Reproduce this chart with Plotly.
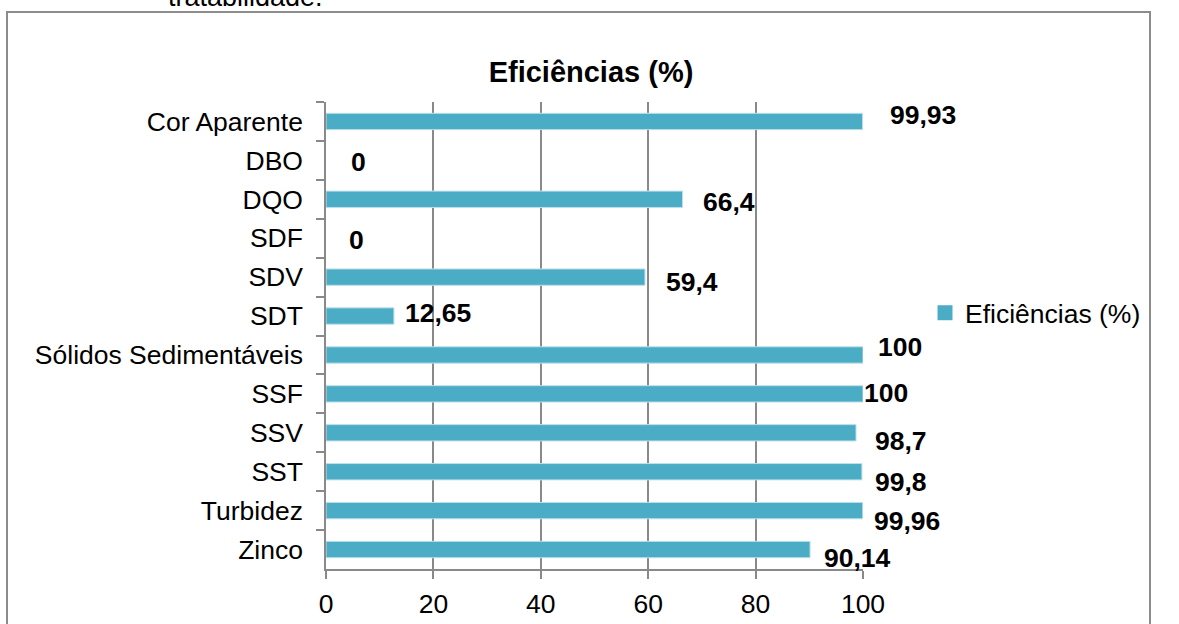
import plotly.graph_objects as go

categories = ["Cor Aparente", "DBO", "DQO", "SDF", "SDV", "SDT",
              "Sólidos Sedimentáveis", "SSF", "SSV", "SST", "Turbidez", "Zinco"]
values = [99.93, 0, 66.4, 0, 59.4, 12.65, 100, 100, 98.7, 99.8, 99.96, 90.14]
value_labels = ["99,93", "0", "66,4", "0", "59,4", "12,65", "100", "100",
                "98,7", "99,8", "99,96", "90,14"]
x_ticks = [0, 20, 40, 60, 80, 100]
series_name = "Eficiências (%)"

# pixel offsets of the data labels from the bar end / category centre
label_dx = [25, 23, 18, 21, 19, 9, 13, -1, 17, 11, 9, 12]
label_dy = [6, -2, -3, -2, -5, 3, 8, 1, -8, -10, -10, -8]

FONT = "Liberation Sans, Arial, sans-serif"
BAR = "#4BACC6"
GRID = "#898989"

fig = go.Figure()
fig.add_trace(go.Bar(
    x=values, y=categories, orientation="h", name=series_name,
    width=0.42,
    marker=dict(color=BAR, line=dict(color="#BFE0EA",
                                     width=[1 if v > 0 else 0 for v in values])),
    showlegend=False,
))
# legend entry with a larger square key
fig.add_trace(go.Scatter(
    x=[None], y=[None], mode="markers", name=series_name,
    marker=dict(symbol="square", size=15, color=BAR), showlegend=True,
))

annotations = []
for cat, v, t, dx, dy in zip(categories, values, value_labels, label_dx, label_dy):
    annotations.append(dict(
        x=v, y=cat, xref="x", yref="y", text=f"<b>{t}</b>", showarrow=False,
        xanchor="left", yanchor="middle", xshift=dx, yshift=dy,
        font=dict(family=FONT, size=26.5, color="#000000"),
    ))

# cut-off caption above the chart
annotations.append(dict(
    x=(166 - 326) / 537, y=(569 + 3) / 467, xref="paper", yref="paper",
    text="tratabilidade.", showarrow=False, xanchor="left", yanchor="middle",
    font=dict(family=FONT, size=27, color="#000000"),
))

fig.update_layout(
    width=1179, height=624,
    margin=dict(l=326, r=316, t=102, b=55, autoexpand=False),
    paper_bgcolor="white", plot_bgcolor="white",
    font=dict(family=FONT, size=26.5, color="#000000"),
    title=dict(text="<b>Eficiências (%)</b>", x=(591 - 326) / 537, xref="paper",
               xanchor="center", y=1 - 72 / 624, yanchor="middle",
               font=dict(family=FONT, size=29, color="#000000")),
    legend=dict(x=(925 - 326) / 537, y=(569 - 313) / 467, xanchor="left",
                yanchor="middle", font=dict(family=FONT, size=26.5),
                bgcolor="rgba(0,0,0,0)"),
    xaxis=dict(range=[0, 100], tickvals=x_ticks, ticktext=[str(t) for t in x_ticks],
               showgrid=True, gridcolor=GRID, gridwidth=1.5,
               showline=True, linecolor=GRID, linewidth=1.5,
               ticks="outside", ticklen=8, tickcolor=GRID, tickwidth=1.5,
               zeroline=False, ticklabelstandoff=2, automargin=False,
               tickfont=dict(family=FONT, size=26.5)),
    yaxis=dict(autorange="reversed", type="category",
               showline=True, linecolor=GRID, linewidth=1.5,
               ticks="outside", ticklen=8, tickcolor=GRID, tickwidth=1.5,
               tickson="boundaries", showgrid=False, ticklabelstandoff=16,
               automargin=False, tickfont=dict(family=FONT, size=26.5)),
    annotations=annotations,
    shapes=[dict(type="rect", xref="paper", yref="paper",
                 x0=(7 - 326) / 537, x1=(1150 - 326) / 537,
                 y0=(569 - 640) / 467, y1=(569 - 12) / 467,
                 line=dict(color="#8C8C8C", width=2), fillcolor="rgba(0,0,0,0)",
                 layer="below")],
)

fig.write_html("out.html")
